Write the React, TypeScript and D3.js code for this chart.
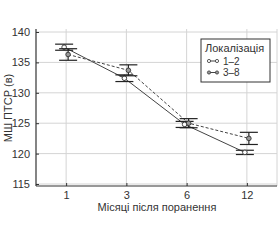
import React, { useEffect, useRef } from "react";
import * as d3 from "d3";

const months = ["1", "3", "6", "12"];
const yTicks = [115, 120, 125, 130, 135, 140];

// "1–2" (open circle, solid line)
const meanA = [137.5, 132.4, 124.8, 120.2];
const errA = [0.5, 0.55, 0.5, 0.35];
// "3–8" (grey circle, dashed line)
const meanB = [136.3, 133.7, 125.0, 122.5];
const errB = [0.95, 0.9, 0.75, 1.0];

const legendLabels = ["1–2", "3–8"];

const App: React.FC = () => {
  const svgRef = useRef<SVGSVGElement>(null);

  useEffect(() => {
    if (!svgRef.current) return;
    const svg = d3.select(svgRef.current);
    svg.selectAll("*").remove();

    const font = "'Liberation Sans', Arial, sans-serif";
    const left = 36;
    const right = 277;
    const top = 29;
    const bottom = 186;

    const x = d3.scalePoint<string>().domain(months).range([left, right]).padding(0.5);
    const y = d3.scaleLinear().domain([115, 140]).range([184, 32]);

    // grid
    const grid = svg.append("g").attr("stroke", "#d4d4d4").attr("stroke-width", 1);
    yTicks.forEach((t) => {
      grid.append("line").attr("x1", left).attr("x2", right).attr("y1", y(t)).attr("y2", y(t));
    });
    months.forEach((m) => {
      grid.append("line").attr("x1", x(m)!).attr("x2", x(m)!).attr("y1", top).attr("y2", bottom);
    });
    grid.append("line").attr("x1", right).attr("x2", right).attr("y1", top).attr("y2", bottom);

    // axes
    const yAxis = svg
      .append("g")
      .attr("transform", `translate(${left},0)`)
      .call(d3.axisLeft(y).tickValues(yTicks).tickSize(-3).tickPadding(6));
    yAxis.select(".domain").remove();
    yAxis.selectAll("line").attr("stroke", "#333");
    yAxis.selectAll("text").attr("fill", "#333").style("font-size", "11px").style("font-family", font);

    const xAxis = svg
      .append("g")
      .attr("transform", `translate(0,${bottom})`)
      .call(d3.axisBottom(x).tickSize(-3).tickPadding(5));
    xAxis.select(".domain").remove();
    xAxis.selectAll("line").attr("stroke", "#333");
    xAxis.selectAll("text").attr("fill", "#333").style("font-size", "11px").style("font-family", font);

    svg.append("line").attr("x1", left).attr("x2", left).attr("y1", top).attr("y2", bottom)
      .attr("stroke", "#333").attr("stroke-width", 1.2);
    svg.append("line").attr("x1", left).attr("x2", right).attr("y1", bottom).attr("y2", bottom)
      .attr("stroke", "#333").attr("stroke-width", 1.2);

    // series
    const drawSeries = (means: number[], errs: number[], dx: number, dashed: boolean, fill: string) => {
      const line = d3
        .line<number>()
        .x((_, i) => x(months[i])! + dx)
        .y((d) => y(d));
      svg.append("path").datum(means).attr("d", line).attr("fill", "none")
        .attr("stroke", "#444").attr("stroke-width", 1)
        .attr("stroke-dasharray", dashed ? "3,2" : null);
      const g = svg.append("g").attr("stroke", "#222").attr("stroke-width", 1.2);
      means.forEach((m, i) => {
        const cx = x(months[i])! + dx;
        g.append("line").attr("x1", cx).attr("x2", cx).attr("y1", y(m + errs[i])).attr("y2", y(m - errs[i]));
        g.append("line").attr("x1", cx - 9).attr("x2", cx + 9).attr("y1", y(m + errs[i])).attr("y2", y(m + errs[i]));
        g.append("line").attr("x1", cx - 9).attr("x2", cx + 9).attr("y1", y(m - errs[i])).attr("y2", y(m - errs[i]));
      });
      means.forEach((m, i) => {
        svg.append("circle").attr("cx", x(months[i])! + dx).attr("cy", y(m)).attr("r", 2.3)
          .attr("fill", fill).attr("stroke", "#333").attr("stroke-width", 0.9);
      });
    };
    drawSeries(meanA, errA, -2, false, "#fff");
    drawSeries(meanB, errB, 2, true, "#999");

    // legend
    const lg = svg.append("g");
    lg.append("rect").attr("x", 201).attr("y", 39).attr("width", 69).attr("height", 43)
      .attr("fill", "#fff").attr("stroke", "#333").attr("stroke-width", 1);
    lg.append("text").attr("x", 205).attr("y", 52).text("Локалізація")
      .attr("fill", "#333").style("font-size", "11px").style("font-family", font);
    legendLabels.forEach((label, i) => {
      const ly = 61 + i * 11.5;
      lg.append("line").attr("x1", 209).attr("x2", 217).attr("y1", ly).attr("y2", ly)
        .attr("stroke", "#444").attr("stroke-width", 1);
      [209, 217].forEach((cx) =>
        lg.append("circle").attr("cx", cx).attr("cy", ly).attr("r", 1.6)
          .attr("fill", i === 0 ? "#fff" : "#999").attr("stroke", "#333").attr("stroke-width", 0.8)
      );
      lg.append("text").attr("x", 223).attr("y", ly + 3.5).text(label)
        .attr("fill", "#333").style("font-size", "10px").style("font-family", font);
    });

    // axis titles
    svg.append("text").attr("x", 157).attr("y", 211).attr("text-anchor", "middle")
      .text("Місяці після поранення").attr("fill", "#333")
      .style("font-size", "11px").style("font-family", font);
    svg.append("text").attr("transform", "translate(12,108) rotate(-90)").attr("text-anchor", "middle")
      .text("МШ ПТСР (в)").attr("fill", "#333")
      .style("font-size", "11px").style("font-family", font);
  }, []);

  return (
    <svg
      ref={svgRef}
      width={280}
      height={240}
      style={{ position: "absolute", left: 0, top: 0, background: "#fff" }}
    />
  );
};

export default App;
